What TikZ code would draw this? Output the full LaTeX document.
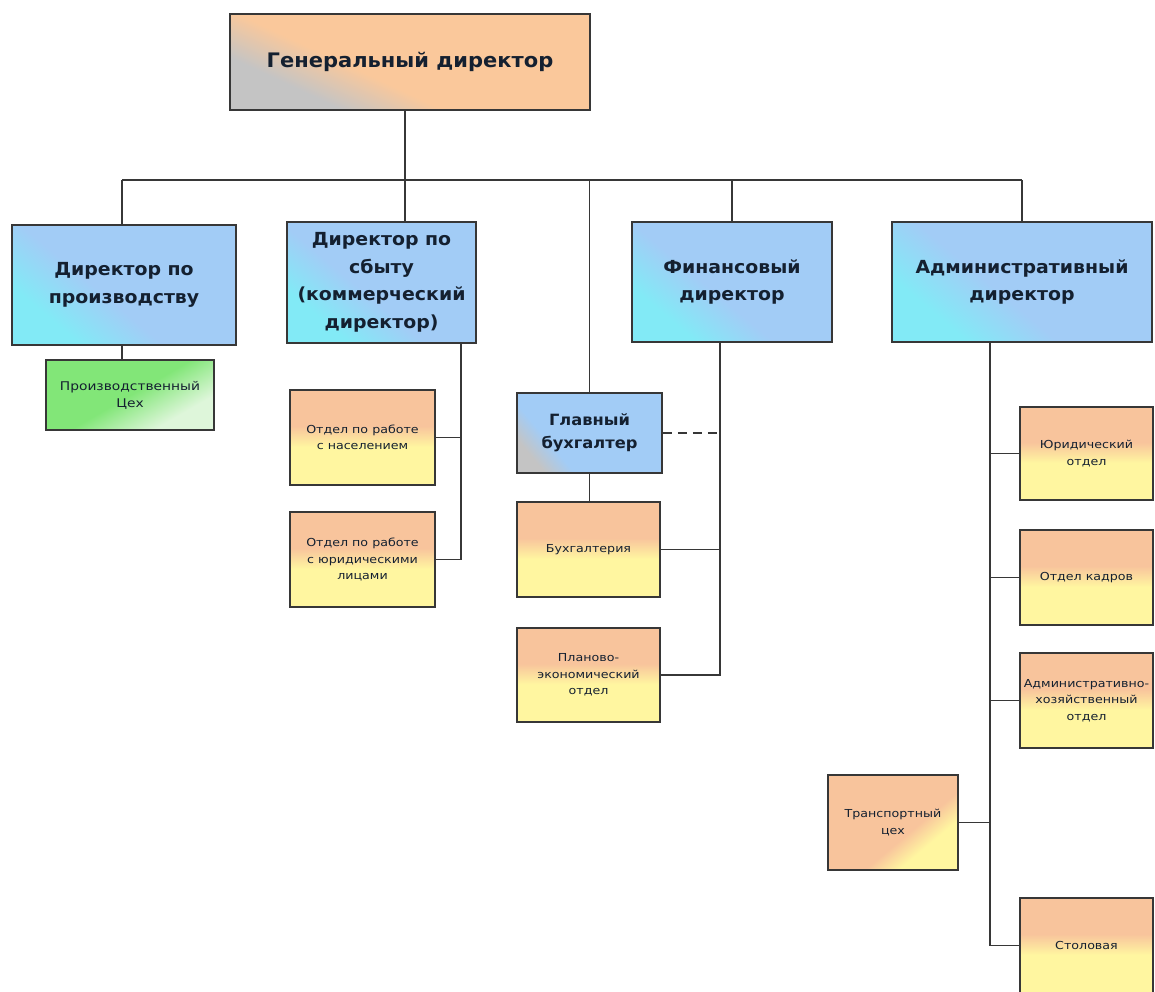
\documentclass[tikz,border=0pt]{standalone}
\usepackage{fontspec}
\setmainfont{DejaVu Sans}
\newfontfamily\smallf[FakeStretch=1.15]{DejaVu Sans}
\newfontfamily\dirf[FakeStretch=1.05]{DejaVu Sans Bold}
\definecolor{peach}{RGB}{250,200,155}
\definecolor{gry}{RGB}{196,196,196}
\definecolor{blu}{RGB}{162,204,246}
\definecolor{cyn}{RGB}{130,234,246}
\definecolor{org}{RGB}{248,196,156}
\definecolor{yel}{RGB}{255,246,160}
\definecolor{grn}{RGB}{130,230,120}
\definecolor{grnl}{RGB}{222,246,218}
\definecolor{ln}{RGB}{55,55,55}
\definecolor{txt}{RGB}{20,32,48}
\pgfdeclareverticalshading{gdshade}{100bp}{color(0bp)=(gry); color(30bp)=(gry); color(42bp)=(peach); color(100bp)=(peach)}
\pgfdeclareverticalshading{gbshade}{100bp}{color(0bp)=(gry); color(24bp)=(gry); color(34bp)=(blu); color(100bp)=(blu)}
\pgfdeclareverticalshading{dirshade}{100bp}{color(0bp)=(cyn); color(28bp)=(cyn); color(44bp)=(blu); color(100bp)=(blu)}
\pgfdeclareverticalshading{oyshade}{100bp}{color(0bp)=(yel); color(45bp)=(yel); color(56bp)=(org); color(100bp)=(org)}
\pgfdeclareverticalshading{tcshade}{100bp}{color(0bp)=(yel); color(32bp)=(yel); color(42bp)=(org); color(100bp)=(org)}
\pgfdeclareverticalshading{grshade}{100bp}{color(0bp)=(grnl); color(30bp)=(grnl); color(50bp)=(grn); color(100bp)=(grn)}
\tikzset{
  box/.style={draw=ln, line width=1.8pt, align=center, inner sep=2pt, text=txt},
  gdbox/.style={box, shading=gdshade, shading angle=-25, font=\dirf\fontsize{20}{24}\selectfont},
  dirbox/.style={box, shading=dirshade, shading angle=-40, font=\dirf\fontsize{18}{27.5}\selectfont},
  gbbox/.style={box, shading=gbshade, shading angle=-50, font=\dirf\fontsize{15.5}{23}\selectfont},
  unit/.style={box, shading=oyshade, font=\smallf\fontsize{11}{16.5}\selectfont},
  tcbox/.style={box, shading=tcshade, shading angle=40, font=\smallf\fontsize{11}{16.5}\selectfont},
  grbox/.style={box, shading=grshade, shading angle=30, font=\smallf\fontsize{12}{17}\selectfont},
  conn/.style={draw=ln, line width=1.8pt},
}
\begin{document}
\begin{tikzpicture}[x=1pt,y=-1pt]
\useasboundingbox (0,0) rectangle (1155,991);
\fill[white] (0,0) rectangle (1155,991);
\clip (0,0) rectangle (1155,991);
% nodes
\node[gdbox, minimum width=360pt, minimum height=96pt] (gd) at (410,62) {Генеральный директор};
\node[dirbox, minimum width=224pt, minimum height=120pt] (dp) at (124,285) {Директор по\\производству};
\node[dirbox, minimum width=189pt, minimum height=121pt] (ds) at (381.5,282.5) {Директор по\\сбыту\\(коммерческий\\директор)};
\node[dirbox, minimum width=200pt, minimum height=120pt] (fd) at (732,282) {Финансовый\\директор};
\node[dirbox, minimum width=260pt, minimum height=120pt] (ad) at (1022,282) {Административный\\директор};
\node[grbox, minimum width=168pt, minimum height=70pt] (pc) at (130,395) {Производственный\\Цех};
\node[unit, minimum width=145pt, minimum height=95pt] (on) at (362.5,437.5) {Отдел по работе\\с населением};
\node[unit, minimum width=145pt, minimum height=95pt] (oy) at (362.5,559.5) {Отдел по работе\\с юридическими\\лицами};
\node[gbbox, minimum width=145pt, minimum height=80pt] (gb) at (589.5,433) {Главный\\бухгалтер};
\node[unit, minimum width=143pt, minimum height=95pt] (bu) at (588.5,549.5) {Бухгалтерия};
\node[unit, minimum width=143pt, minimum height=94pt] (pe) at (588.5,675) {Планово-\\экономический\\отдел};
\node[unit, minimum width=133pt, minimum height=93pt] (yu) at (1086.5,453.5) {Юридический\\отдел};
\node[unit, minimum width=133pt, minimum height=95pt] (ok) at (1086.5,577.5) {Отдел кадров};
\node[unit, minimum width=133pt, minimum height=95pt] (ax) at (1086.5,700.5) {Административно-\\хозяйственный\\отдел};
\node[tcbox, minimum width=130pt, minimum height=95pt] (tc) at (893,822.5) {Транспортный\\цех};
\node[unit, minimum width=133pt, minimum height=95pt] (st) at (1086.5,945.5) {Столовая};
% connectors
\coordinate (busL) at (122,180);
\coordinate (busR) at (1022,180);
\coordinate (gdx) at ([xshift=-5pt]gd.south);
\coordinate (dsx) at ([xshift=-16pt]ds.south east);
\coordinate (fdx) at ([xshift=-12pt]fd.south);
\coordinate (adx) at ([xshift=-32pt]ad.south);
\draw[conn] (busL) -- (busR);
\draw[conn] (gdx) -- (gdx |- ds.north);
\draw[conn] (dp.north -| busL) -- (busL);
\draw[conn] (gb.north) -- (gb.north |- busL);
\draw[conn] (fd.north) -- (fd.north |- busL);
\draw[conn] (ad.north) -- (ad.north |- busL);
\draw[conn] (dp.south -| busL) -- (pc.north -| busL);
\draw[conn] (dsx) |- (oy.east);
\draw[conn] (on.east) -- (on.east -| dsx);
\draw[conn] (gb.south) -- (gb.south |- bu.north);
\draw[conn] (fdx) |- (pe.east);
\draw[conn] (bu.east) -- (bu.east -| fdx);
\draw[conn, dash pattern=on 9pt off 6pt] (gb.east) -- (gb.east -| fdx);
\draw[conn] (adx) |- (st.west);
\draw[conn] (yu.west) -- (yu.west -| adx);
\draw[conn] (ok.west) -- (ok.west -| adx);
\draw[conn] (ax.west) -- (ax.west -| adx);
\draw[conn] (tc.east) -- (tc.east -| adx);
\end{tikzpicture}
\end{document}
